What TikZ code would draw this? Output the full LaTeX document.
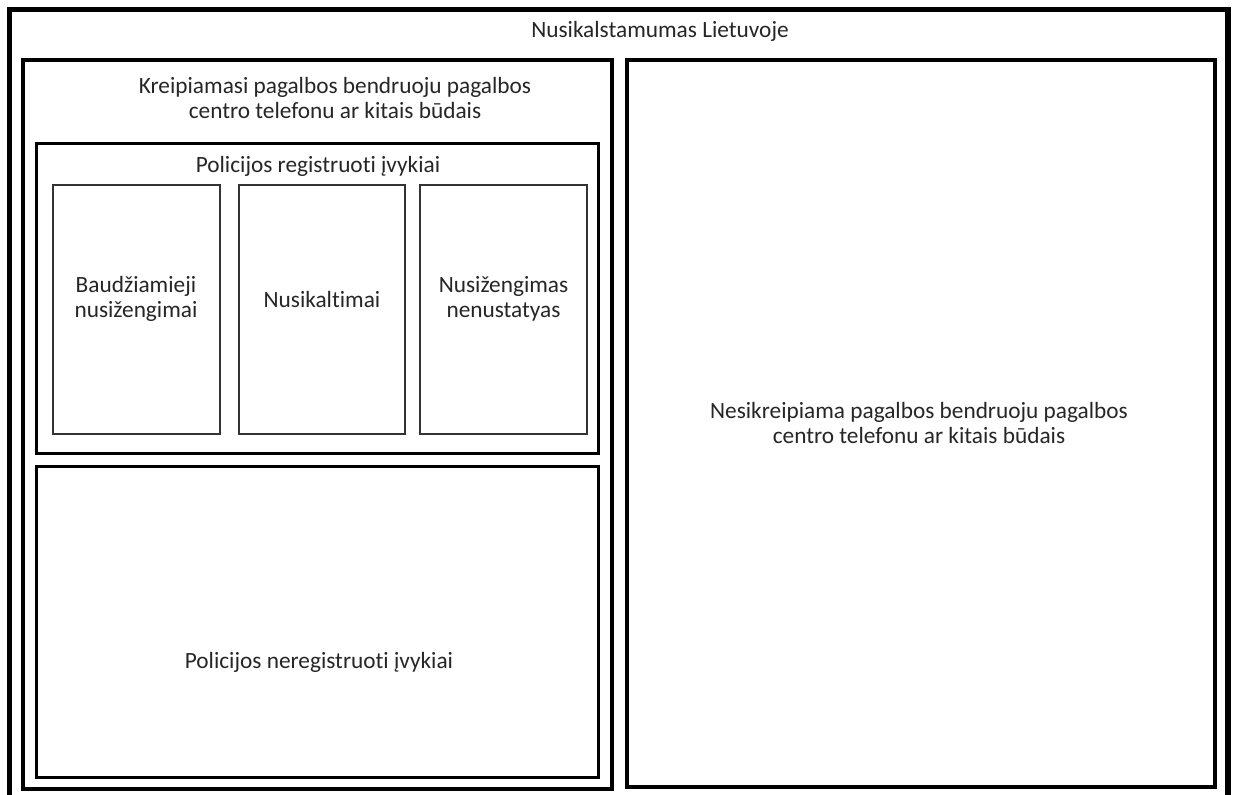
\documentclass[tikz,border=0pt]{standalone}
\usepackage{fontspec}
\setmainfont{Carlito}[Ligatures={NoCommon}]
\begin{document}
\begin{tikzpicture}[x=1pt,y=-1pt,
  lbl/.style={align=center,font=\fontsize{23.3}{25.5}\selectfont,text=black!85,inner sep=0pt},
  outerbox/.style={draw=black,line width=5.5pt},
  colbox/.style={draw=black,line width=4pt},
  midbox/.style={draw=black,line width=3pt},
  smallbox/.style={draw=black!80,line width=2pt}]
\useasboundingbox[fill=white] (0,0) rectangle (1235,795);
\begin{scope}
\clip (0,0) rectangle (1235,795);
\draw[outerbox] (9.5,9.5) rectangle (1228,820);
\draw[colbox] (23,60) rectangle (612,789);
\draw[colbox] (627,60) rectangle (1215,787);
\draw[midbox] (36,143) rectangle (598,453);
\draw[midbox] (36,466) rectangle (598,777);
\draw[smallbox] (53,184.5) rectangle (219.5,434);
\draw[smallbox] (238.5,184.5) rectangle (404.5,434);
\draw[smallbox] (419.5,184.5) rectangle (587,434);
\end{scope}
\node[lbl] (title) at (660,31) {Nusikalstamumas Lietuvoje};
\node[lbl] (kreip) at (335,98) {Kreipiamasi pagalbos bendruoju pagalbos\\centro telefonu ar kitais būdais};
\node[lbl] (reg) at (318,166) {Policijos registruoti įvykiai};
\node[lbl] (baud) at (136,299) {Baudžiamieji\\nusižengimai};
\node[lbl] (nusik) at (322,299) {Nusikaltimai};
\node[lbl] (nust) at (503.5,299) {Nusižengimas\\nenustatyas};
\node[lbl] (nereg) at (319,662) {Policijos neregistruoti įvykiai};
\node[lbl] (nesik) at (919,423) {Nesikreipiama pagalbos bendruoju pagalbos\\centro telefonu ar kitais būdais};
\end{tikzpicture}
\end{document}
